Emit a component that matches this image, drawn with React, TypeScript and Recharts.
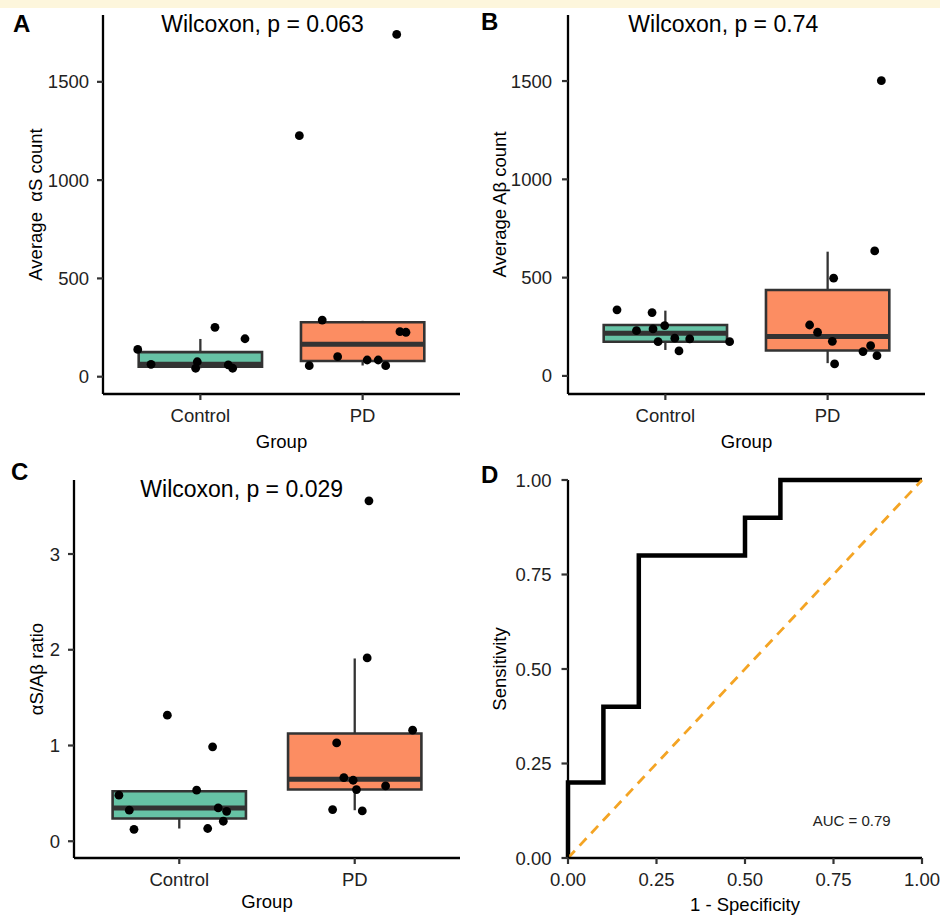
import React from 'react';
import {
  ComposedChart,
  LineChart,
  Line,
  Scatter,
  XAxis,
  YAxis,
  ReferenceArea,
  ReferenceLine,
} from 'recharts';

const FONT = '"Liberation Sans", Arial, Helvetica, sans-serif';

// ---------- shared categories ----------
const groups = ['Control', 'PD'];
const groupColors = ['#66c2a5', '#fc8d62'];

// ---------- Panel A : Average αS count ----------
const aControlValues = [139, 63, 251, 193, 76, 43, 60, 43];
const aControlJitter = [-0.386, -0.304, 0.09, 0.275, -0.019, -0.029, 0.172, 0.199];
const aPdValues = [1226, 1741, 288, 102, 56, 85, 85, 56, 229, 226];
const aPdJitter = [-0.39, 0.21, -0.249, -0.154, -0.329, 0.028, 0.096, 0.142, 0.23, 0.267];
const aLow = [43, 57];
const aQ1 = [51, 80];
const aMedian = [63, 165];
const aQ3 = [125, 277];
const aHigh = [192, 284];
const aTicks = [0, 500, 1000, 1500];

// ---------- Panel B : Average Aβ count ----------
const bControlValues = [336, 322, 230, 239, 256, 174, 192, 188, 127, 174];
const bControlJitter = [-0.298, -0.082, -0.178, -0.076, -0.004, -0.045, 0.058, 0.15, 0.084, 0.396];
const bPdValues = [1502, 636, 497, 259, 222, 176, 61, 124, 154, 103];
const bPdJitter = [0.331, 0.29, 0.037, -0.111, -0.062, 0.029, 0.043, 0.218, 0.265, 0.304];
const bLow = [132, 65];
const bQ1 = [174, 129];
const bMedian = [217, 200];
const bQ3 = [259, 437];
const bHigh = [332, 632];
const bTicks = [0, 500, 1000, 1500];

// ---------- Panel C : αS/Aβ ratio ----------
const cControlValues = [0.481, 0.324, 0.125, 1.317, 0.533, 0.986, 0.133, 0.348, 0.313, 0.209];
const cControlJitter = [-0.344, -0.285, -0.258, -0.068, 0.099, 0.19, 0.162, 0.222, 0.27, 0.251];
const cPdValues = [3.556, 1.915, 1.16, 1.027, 0.665, 0.637, 0.54, 0.578, 0.331, 0.317];
const cPdJitter = [0.081, 0.071, 0.33, -0.103, -0.062, -0.009, 0.01, 0.176, -0.126, 0.043];
const cLow = [0.133, 0.324];
const cQ1 = [0.237, 0.54];
const cMedian = [0.348, 0.648];
const cQ3 = [0.522, 1.125];
const cHigh = [0.522, 1.909];
const cTicks = [0, 1, 2, 3];

// ---------- Panel D : ROC ----------
const rocFpr = [0, 0, 0.1, 0.1, 0.2, 0.2, 0.5, 0.5, 0.6, 0.6, 1];
const rocTpr = [0, 0.2, 0.2, 0.4, 0.4, 0.8, 0.8, 0.9, 0.9, 1, 1];
const rocTicks = [0, 0.25, 0.5, 0.75, 1];

const BOX_HALF = 0.38;

type BoxStats = { low: number[]; q1: number[]; med: number[]; q3: number[]; high: number[] };

type PanelProps = {
  left: number;
  top: number;
  width: number;
  height: number;
  margin: { top: number; right: number; bottom: number; left: number };
  yAxisWidth: number;
  xAxisHeight: number;
  yDomain: [number, number];
  yTicks: number[];
  yLabel: string;
  yLabelOffset: number;
  xLabelOffset: number;
  yTickMargin: number;
  stats: BoxStats;
  values: number[][];
  jitter: number[][];
};

const Dot = (props: any) => {
  const { cx, cy } = props;
  if (cx == null || cy == null) return null;
  return <circle cx={cx} cy={cy} r={4.4} fill="#000" />;
};

function BoxPanel(p: PanelProps) {
  const points = p.values.flatMap((vals, g) =>
    vals.map((v, i) => ({ x: g + 1 + p.jitter[g][i], y: v }))
  );
  return (
    <div style={{ position: 'absolute', left: p.left, top: p.top }}>
      <ComposedChart width={p.width} height={p.height} margin={p.margin}>
        <XAxis
          type="number"
          dataKey="x"
          domain={[0.4, 2.6]}
          ticks={[1, 2]}
          tickFormatter={(v: number) => groups[Math.round(v) - 1] ?? ''}
          height={p.xAxisHeight}
          axisLine={{ stroke: '#000', strokeWidth: 2.3 }}
          tickLine={{ stroke: '#333', strokeWidth: 2.2 }}
          tickSize={6}
          tickMargin={9}
          tick={{ fill: '#222', fontSize: 18.5, fontFamily: FONT }}
          label={{
            value: 'Group',
            position: 'insideBottom',
            offset: p.xLabelOffset,
            style: { fill: '#000', fontSize: 18.5, fontFamily: FONT },
          }}
          allowDataOverflow
        />
        <YAxis
          type="number"
          dataKey="y"
          domain={p.yDomain}
          ticks={p.yTicks}
          width={p.yAxisWidth}
          axisLine={{ stroke: '#000', strokeWidth: 2.3 }}
          tickLine={{ stroke: '#333', strokeWidth: 2.2 }}
          tickSize={6}
          tickMargin={p.yTickMargin}
          tick={{ fill: '#222', fontSize: 18.5, fontFamily: FONT }}
          label={{
            value: p.yLabel,
            angle: -90,
            position: 'insideLeft',
            offset: p.yLabelOffset,
            style: { textAnchor: 'middle', fill: '#000', fontSize: 18.5, fontFamily: FONT, whiteSpace: 'pre' },
          }}
          allowDataOverflow
        />
        {groups.map((_, g) => (
          <ReferenceLine
            key={`wh-${g}`}
            segment={[
              { x: g + 1, y: p.stats.q3[g] },
              { x: g + 1, y: p.stats.high[g] },
            ]}
            stroke="#333"
            strokeWidth={2.3}
          />
        ))}
        {groups.map((_, g) => (
          <ReferenceLine
            key={`wl-${g}`}
            segment={[
              { x: g + 1, y: p.stats.low[g] },
              { x: g + 1, y: p.stats.q1[g] },
            ]}
            stroke="#333"
            strokeWidth={2.3}
          />
        ))}
        {groups.map((_, g) => (
          <ReferenceArea
            key={`box-${g}`}
            x1={g + 1 - BOX_HALF}
            x2={g + 1 + BOX_HALF}
            y1={p.stats.q1[g]}
            y2={p.stats.q3[g]}
            fill={groupColors[g]}
            fillOpacity={1}
            stroke="#333"
            strokeWidth={2.6}
          />
        ))}
        {groups.map((_, g) => (
          <ReferenceLine
            key={`med-${g}`}
            segment={[
              { x: g + 1 - BOX_HALF, y: p.stats.med[g] },
              { x: g + 1 + BOX_HALF, y: p.stats.med[g] },
            ]}
            stroke="#333"
            strokeWidth={5}
          />
        ))}
        <Scatter data={points} shape={<Dot />} isAnimationActive={false} />
      </ComposedChart>
    </div>
  );
}

function RocPanel() {
  const rocData = rocFpr.map((x, i) => ({ x, y: rocTpr[i] }));
  return (
    <div style={{ position: 'absolute', left: 470, top: 460 }}>
      <LineChart width={470} height={456} data={rocData} margin={{ top: 20, right: 18, bottom: 0, left: 0 }}>
        <XAxis
          type="number"
          dataKey="x"
          domain={[0, 1]}
          ticks={rocTicks}
          tickFormatter={(v: number) => v.toFixed(2)}
          height={58}
          axisLine={{ stroke: '#000', strokeWidth: 2.3 }}
          tickLine={{ stroke: '#333', strokeWidth: 2.2 }}
          tickSize={6}
          tickMargin={9}
          tick={{ fill: '#222', fontSize: 18.5, fontFamily: FONT }}
          label={{
            value: '1 - Specificity',
            position: 'insideBottom',
            offset: 5.5,
            style: { fill: '#000', fontSize: 18.5, fontFamily: FONT },
          }}
        />
        <YAxis
          type="number"
          dataKey="y"
          domain={[0, 1]}
          ticks={rocTicks}
          tickFormatter={(v: number) => v.toFixed(2)}
          width={98}
          axisLine={{ stroke: '#000', strokeWidth: 2.3 }}
          tickLine={{ stroke: '#333', strokeWidth: 2.2 }}
          tickSize={6.5}
          tickMargin={10}
          tick={{ fill: '#222', fontSize: 18.5, fontFamily: FONT }}
          label={{
            value: 'Sensitivity',
            angle: -90,
            position: 'insideLeft',
            offset: 29,
            style: { textAnchor: 'middle', fill: '#000', fontSize: 18.5, fontFamily: FONT },
          }}
        />
        <Line
          type="linear"
          dataKey="y"
          stroke="#000"
          strokeWidth={4.5}
          dot={false}
          activeDot={false}
          isAnimationActive={false}
          strokeLinejoin="miter"
          strokeLinecap="butt"
        />
        <ReferenceLine
          segment={[
            { x: 0, y: 0 },
            { x: 1, y: 1 },
          ]}
          stroke="#f4a424"
          strokeWidth={2.8}
          strokeDasharray="10 7"
        />
      </LineChart>
    </div>
  );
}

export default function App() {
  return (
    <div
      style={{
        position: 'absolute',
        left: 0,
        top: 0,
        width: 940,
        height: 916,
        background: '#fff',
        overflow: 'hidden',
        fontFamily: FONT,
      }}
    >
      <div style={{ position: 'absolute', left: 0, top: 0, width: 940, height: 8, background: '#fdf6dc' }} />
      <BoxPanel
        left={0}
        top={0}
        width={470}
        height={460}
        margin={{ top: 15, right: 10, bottom: 0, left: 0 }}
        yAxisWidth={103}
        xAxisHeight={66}
        yDomain={[-88, 1840]}
        yTicks={aTicks}
        yLabel={'Average\u00A0\u00A0αS count'}
        yLabelOffset={35}
        xLabelOffset={12}
        yTickMargin={8}
        stats={{ low: aLow, q1: aQ1, med: aMedian, q3: aQ3, high: aHigh }}
        values={[aControlValues, aPdValues]}
        jitter={[aControlJitter, aPdJitter]}
      />
      <BoxPanel
        left={470}
        top={0}
        width={470}
        height={460}
        margin={{ top: 15, right: 15, bottom: 0, left: 0 }}
        yAxisWidth={98}
        xAxisHeight={66}
        yDomain={[-92, 1836]}
        yTicks={bTicks}
        yLabel="Average Aβ count"
        yLabelOffset={29}
        xLabelOffset={12}
        yTickMargin={10}
        stats={{ low: bLow, q1: bQ1, med: bMedian, q3: bQ3, high: bHigh }}
        values={[bControlValues, bPdValues]}
        jitter={[bControlJitter, bPdJitter]}
      />
      <BoxPanel
        left={0}
        top={460}
        width={470}
        height={456}
        margin={{ top: 20, right: 10, bottom: 0, left: 0 }}
        yAxisWidth={74}
        xAxisHeight={58}
        yDomain={[-0.175, 3.773]}
        yTicks={cTicks}
        yLabel="αS/Aβ ratio"
        yLabelOffset={36}
        xLabelOffset={8}
        yTickMargin={8}
        stats={{ low: cLow, q1: cQ1, med: cMedian, q3: cQ3, high: cHigh }}
        values={[cControlValues, cPdValues]}
        jitter={[cControlJitter, cPdJitter]}
      />
      <RocPanel />
      <svg
        width={940}
        height={916}
        style={{ position: 'absolute', left: 0, top: 0, pointerEvents: 'none' }}
        fontFamily={FONT}
      >
        <text x={13} y={31.5} fontSize={24} fontWeight="bold" fill="#000">A</text>
        <text x={481} y={30} fontSize={24} fontWeight="bold" fill="#000">B</text>
        <text x={11} y={480} fontSize={24} fontWeight="bold" fill="#000">C</text>
        <text x={481} y={483} fontSize={24} fontWeight="bold" fill="#000">D</text>
        <text x={262.5} y={32.3} fontSize={23} textAnchor="middle" fill="#000">Wilcoxon, p = 0.063</text>
        <text x={723.3} y={32} fontSize={23} textAnchor="middle" fill="#000">Wilcoxon, p = 0.74</text>
        <text x={241.7} y={497.3} fontSize={23} textAnchor="middle" fill="#000">Wilcoxon, p = 0.029</text>
        <text x={851.7} y={826} fontSize={15} textAnchor="middle" fill="#222">AUC = 0.79</text>
      </svg>
    </div>
  );
}
